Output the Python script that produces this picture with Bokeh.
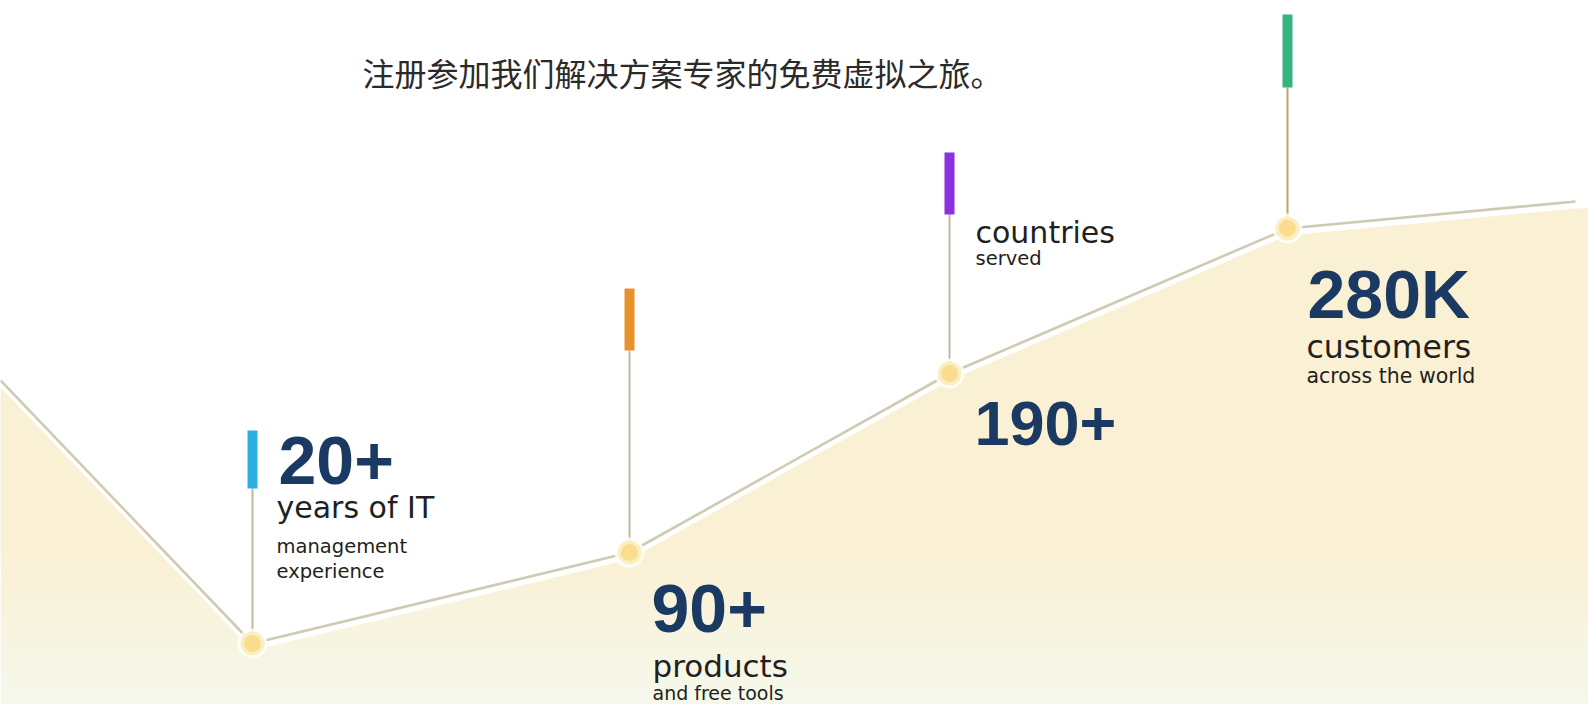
import numpy as np
from bokeh.plotting import figure
from bokeh.models import Range1d, ColumnDataSource
from bokeh.core.properties import value
from bokeh.embed import file_html
from bokeh.resources import INLINE

# ---------------- data ----------------
title = "注册参加我们解决方案专家的免费虚拟之旅。"
big_numbers = ["20+", "90+", "190+", "280K"]
main_labels = ["years of IT", "products", "countries", "customers"]
sub_labels = [["management", "experience"], ["and free tools"], ["served"], ["across the world"]]
flag_colors = ["#2bb0e1", "#e8922c", "#8b2fe0", "#36b37e"]
stem_colors = ["#bdbaa6", "#bdbaa6", "#bdbaa6", "#b7a86c"]

# growth line (x position along the page, height above the bottom edge)
line_x = [0, 252, 629, 949, 1287, 1575]
line_h = [324, 61, 152, 331, 476, 503]
# milestone points are the inner vertices of the line
ms_x = line_x[1:5]
ms_h = line_h[1:5]
# flag (coloured bar) top / bottom heights
flag_top = [274, 416, 552, 690]
flag_bottom = [216, 354, 490, 617]

# ---------------- figure ----------------
W, H = 1588, 704
p = figure(width=W, height=H, x_range=Range1d(0, W), y_range=Range1d(704 - H, 704),
           x_axis_type=None, y_axis_type=None, toolbar_location=None,
           output_backend="svg", min_border=0, outline_line_color=None,
           background_fill_color="white", border_fill_color="white")
p.min_border_left = p.min_border_right = p.min_border_top = p.min_border_bottom = 0
p.grid.visible = False

# ---------------- gradient fill under the line ----------------
xs = np.linspace(0, 1588, 1589)
top_edge = np.interp(xs, line_x, line_h) - 7.0

def mix(c1, c2, t):
    a = [int(c1[i:i + 2], 16) for i in (1, 3, 5)]
    b = [int(c2[i:i + 2], 16) for i in (1, 3, 5)]
    return "#%02x%02x%02x" % tuple(round(a[k] + (b[k] - a[k]) * t) for k in range(3))

c_top = "#faf0d4"
c_bot = "#f5f8eb"
grad_start = 150  # height where the gradient starts
nb = 30
y2 = np.clip(top_edge, grad_start, 800)
p.varea(x=xs, y1=np.full_like(xs, grad_start), y2=y2, fill_color=c_top)
step = grad_start / nb
for k in range(nb):
    h_hi = grad_start - k * step
    h_lo = h_hi - step
    t = (k + 0.5) / nb
    y2 = np.clip(top_edge, h_lo, h_hi + 0.6)
    p.varea(x=xs, y1=np.full_like(xs, h_lo - (1 if k == nb - 1 else 0)), y2=y2,
            fill_color=mix(c_top, c_bot, t))

# ---------------- line ----------------
p.line(line_x, line_h, line_color="#cfcbb2", line_width=2.6)

# ---------------- stems & flags ----------------
src = ColumnDataSource(dict(x=ms_x, h=ms_h, ft=flag_top, fb=flag_bottom,
                            fc=flag_colors, sc=stem_colors))
p.segment(x0="x", y0="fb", x1="x", y1="h", source=src, line_color="sc", line_width=2)
p.vbar(x="x", bottom="fb", top="ft", width=10, source=src, fill_color="fc", line_color=None)

# ---------------- glowing dots ----------------
p.scatter("x", "h", source=src, size=30, fill_color="white", fill_alpha=0.8, line_color=None)
p.scatter("x", "h", source=src, size=24, fill_color="#fbecbb", fill_alpha=0.9, line_color=None)
p.scatter("x", "h", source=src, size=17, fill_color="#f9dc8a", fill_alpha=0.95, line_color=None)

# ---------------- texts ----------------
NAVY = "#1b3a63"
INK = "#231f20"

def ht(y_base, size, k):  # page baseline y (from top) -> anchor height
    return 704 - (y_base - k * size)

# big numbers
big_x = [278, 651, 974, 1307]
big_y = [484, 632, 445, 318]
big_sz = [68, 68, 63, 68]
p.text(x=big_x, y=[ht(v, s, 0.355) for v, s in zip(big_y, big_sz)], text=big_numbers,
       text_font=value("Liberation Sans"), text_font_size=[f"{s}px" for s in big_sz],
       text_font_style="bold", text_color=NAVY, text_baseline="alphabetic", text_align="left")

# main labels
main_x = [276, 652, 975, 1306]
main_y = [518, 677, 243, 358]
main_sz = [30, 31, 30, 31.5]
p.text(x=main_x, y=[ht(v, s, 0.36) for v, s in zip(main_y, main_sz)], text=main_labels,
       text_font=value("DejaVu Sans"), text_font_size=[f"{s}px" for s in main_sz],
       text_color=INK, text_baseline="alphabetic", text_align="left")

# sub labels
sub_pos = [[(276, 553, 19.5), (276, 578, 19.5)], [(652, 699, 19)], [(975, 265, 19.5)],
           [(1306, 383, 20.5)]]
sx, sy, st, ss = [], [], [], []
for labels, pos in zip(sub_labels, sub_pos):
    for lab, (x, y, s) in zip(labels, pos):
        sx.append(x); sy.append(ht(y, s, 0.36)); st.append(lab); ss.append(f"{s}px")
p.text(x=sx, y=sy, text=st, text_font=value("DejaVu Sans"), text_font_size=ss,
       text_color=INK, text_baseline="alphabetic", text_align="left")

# title
p.text(x=[362], y=[704 - 71], text=[title], text_font=value("Noto Sans CJK SC"),
       text_font_size="32px", text_color="#2a2a2a", text_baseline="middle", text_align="left")

open("out.html", "w").write(file_html(p, INLINE))
